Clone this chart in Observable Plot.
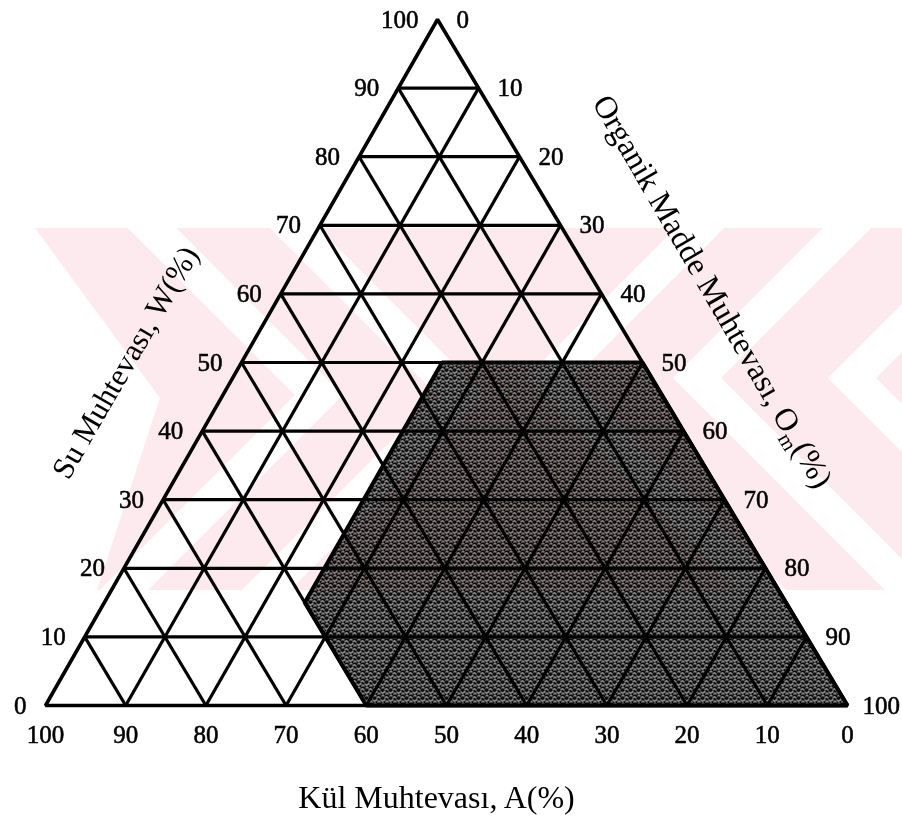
<!DOCTYPE html>
<html>
<head>
<meta charset="utf-8">
<script src="https://cdn.jsdelivr.net/npm/d3@7"></script>
<script src="https://cdn.jsdelivr.net/npm/@observablehq/plot@0.6"></script>
<style>
  body { margin: 0; background: #fff; }
  #wrap { position: relative; width: 902px; height: 820px; }
  #wm { position: absolute; left: 0; top: 0; mix-blend-mode: multiply; pointer-events: none; }
</style>
</head>
<body>
<div id="wrap"></div>
<script>
// ---------- data ----------
const gridTicks = [10, 20, 30, 40, 50, 60, 70, 80, 90];
const wTickValues = [0, 10, 20, 30, 40, 50, 60, 70, 80, 90, 100];   // Su Muhtevası (left side)
const oTickValues = [0, 10, 20, 30, 40, 50, 60, 70, 80, 90, 100];   // Organik Madde (right side)
const aTickValues = [100, 90, 80, 70, 60, 50, 40, 30, 20, 10, 0];   // Kül Muhtevası (bottom)
// shaded region corners (W, O; A = 100 - W - O)
const regionW = [50, 50, 0, 0, 15];
const regionO = [25, 50, 100, 40, 25];
const titleBottom = "Kül Muhtevası, A(%)";
const titleLeft = "Su Muhtevası, W(%)";
const titleRight = "Organik Madde Muhtevası, Om(%)";

// ---------- ternary -> cartesian ----------
const TX = 0.4888; // horizontal position of the W=100 apex
const cx = (W, O) => O + W * TX;
const cy = (W) => W;

const region = regionW.map((W, i) => ({x: cx(W, regionO[i]), y: cy(W)}));
const outline = [{x: cx(0, 0), y: 0}, {x: cx(0, 100), y: 0}, {x: cx(100, 0), y: 100}];

const segs = [];
for (const k of gridTicks) {
  segs.push({x1: cx(k, 0), y1: k, x2: cx(k, 100 - k), y2: k});             // W = k
  segs.push({x1: cx(0, k), y1: 0, x2: cx(100 - k, k), y2: 100 - k});       // O = k
  segs.push({x1: cx(0, 100 - k), y1: 0, x2: cx(100 - k, 0), y2: 100 - k}); // A = k
}
const wLabels = wTickValues.map(v => ({x: cx(v, 0), y: v, t: String(v)}));
const oLabels = oTickValues.map(v => ({x: cx(100 - v, v), y: 100 - v, t: String(v)}));
const aLabels = aTickValues.map(v => ({x: cx(0, 100 - v), y: 0, t: String(v)}));
const oLabelsUpper = oLabels.filter(d => d.t.length < 3);
const oLabelsCorner = oLabels.filter(d => d.t.length === 3);

const serif = "'Liberation Serif', 'Times New Roman', Times, serif";
const tickStyle = {fontSize: 25, fill: "#000", stroke: "#000", strokeWidth: 0.55};

const plot = Plot.plot({
  width: 902,
  height: 820,
  marginLeft: 0, marginRight: 0, marginTop: 0, marginBottom: 0,
  x: {domain: [0, 100], range: [45, 847], axis: null},
  y: {domain: [0, 100], range: [705, 19], axis: null},
  style: {background: "transparent", fontFamily: serif, color: "#000"},
  marks: [
    Plot.line(region, {x: "x", y: "y", curve: "linear-closed", fill: "url(#stipple)", stroke: "none"}),
    Plot.link(segs, {x1: "x1", y1: "y1", x2: "x2", y2: "y2", stroke: "#000", strokeWidth: 3.2}),
    Plot.line(region, {x: "x", y: "y", curve: "linear-closed", fill: "none", stroke: "#000", strokeWidth: 4, strokeLinejoin: "miter"}),
    Plot.line(outline, {x: "x", y: "y", curve: "linear-closed", fill: "none", stroke: "#000", strokeWidth: 3.6, strokeLinejoin: "miter"}),
    Plot.text(wLabels, {x: "x", y: "y", text: "t", textAnchor: "end", dx: -19, ...tickStyle}),
    Plot.text(oLabelsUpper, {x: "x", y: "y", text: "t", textAnchor: "start", dx: 19, ...tickStyle}),
    Plot.text(oLabelsCorner, {x: "x", y: "y", text: "t", textAnchor: "start", dx: 15, ...tickStyle}),
    Plot.text(aLabels, {x: "x", y: "y", text: "t", textAnchor: "middle", dy: 29, ...tickStyle}),
    Plot.text([titleBottom], {x: cx(0, 50), y: 0, text: d => d, dx: -10, dy: 92, fontSize: 32, fill: "#000"}),
    Plot.text([titleLeft], {x: cx(50, 0), y: 50, text: d => d, dx: -116, rotate: -60, fontSize: 31, fill: "#000"}),
    Plot.text([titleRight], {x: cx(50, 50), y: 50, text: d => d, dx: 70, dy: -71, rotate: 60, fontSize: 32, fill: "#000"})
  ]
});

// stipple pattern for the shaded region
const defs = d3.select(plot).insert("defs", ":first-child");
const pat = defs.append("pattern").attr("id", "stipple").attr("patternUnits", "userSpaceOnUse")
  .attr("width", 8).attr("height", 8);
pat.append("rect").attr("width", 8).attr("height", 8).attr("fill", "#0e0c0c");
const dots = [[0,1],[1,0],[2,0],[3,1], [4,3],[5,4],[6,4],[7,3], [1,5],[2,4],[3,5], [5,7],[6,6],[7,7], [0,3]];
for (const [px, py] of dots) {
  pat.append("rect").attr("x", px).attr("y", py).attr("width", 1).attr("height", 1)
    .attr("fill", "#ffffff").attr("shape-rendering", "crispEdges");
}

// subscript m in the right title
d3.select(plot).selectAll("text").each(function() {
  const t = d3.select(this);
  if (t.text() === titleRight) {
    t.text(null);
    t.append("tspan").text("Organik Madde Muhtevası, O");
    t.append("tspan").attr("font-size", 21).attr("dy", 7).text("m");
    t.append("tspan").attr("dy", -7).text("(%)");
  }
});

document.getElementById("wrap").appendChild(plot);

// ---------- faint background watermark (decoration, multiplied over the chart) ----------
const wm = d3.select("#wrap").append("svg").attr("id", "wm").attr("width", 902).attr("height", 820);
wm.append("defs").append("clipPath").attr("id", "wmclip").append("polygon")
  .attr("points", "35,228 902,228 902,590 97,590 160,398");
const g = wm.append("g").attr("clip-path", "url(#wmclip)");
g.append("rect").attr("x", 0).attr("y", 228).attr("width", 902).attr("height", 362).attr("fill", "#fdeaee");
const ymL = 395, ymR = 378, sw = 34;
for (const x0 of [152, 294]) {
  const tip = x0 + (ymL - 228);
  g.append("polyline").attr("fill", "none").attr("stroke", "#fff").attr("stroke-width", sw)
    .attr("stroke-linejoin", "miter")
    .attr("points", `${x0 - 40},${188} ${tip},${ymL} ${tip - 240},${ymL + 240}`);
}
for (const c of [852, 697, 550]) {
  g.append("polyline").attr("fill", "none").attr("stroke", "#fff").attr("stroke-width", sw)
    .attr("stroke-linejoin", "miter")
    .attr("points", `${c + 240},${ymR - 240} ${c},${ymR} ${c + 260},${ymR + 260}`);
}
</script>
</body>
</html>
